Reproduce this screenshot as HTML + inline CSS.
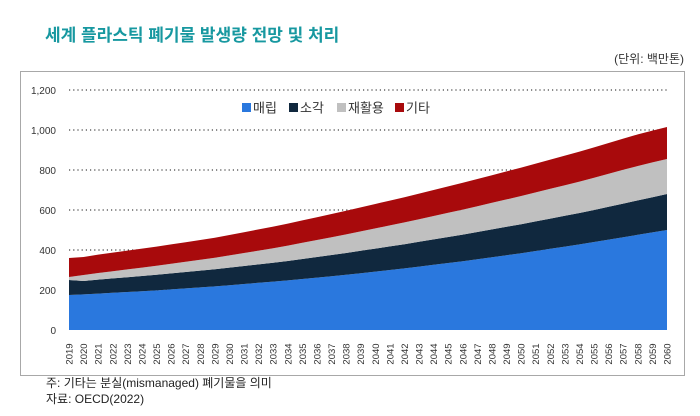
<!DOCTYPE html>
<html><head><meta charset="utf-8">
<style>
body{margin:0;background:#fff;width:700px;height:416px;overflow:hidden;font-family:"Liberation Sans","Noto Sans CJK KR",sans-serif}
svg{display:block}
</style></head>
<body>
<svg id="chart" width="700" height="416" xmlns="http://www.w3.org/2000/svg">
<text x="45" y="41" font-size="17" font-weight="bold" fill="#1798a0" font-family="'Liberation Sans','Noto Sans CJK KR',sans-serif">세계 플라스틱 폐기물 발생량 전망 및 처리</text>
<text x="684" y="63" font-size="12" fill="#333" text-anchor="end" font-family="'Liberation Sans','Noto Sans CJK KR',sans-serif">(단위: 백만톤)</text>
<rect x="20.5" y="71.5" width="664" height="304" fill="none" stroke="#a8a8a8"/>
<g id="grid"></g>
<g id="areas"></g>
<g id="yticks"></g>
<g id="xticks"></g>
<g id="legend" font-size="13" fill="#333" font-family="'Liberation Sans','Noto Sans CJK KR',sans-serif"></g>
<text x="46" y="387" font-size="12" fill="#222" font-family="'Liberation Sans','Noto Sans CJK KR',sans-serif">주: 기타는 분실(mismanaged) 폐기물을 의미</text>
<text x="46" y="403" font-size="12" fill="#222" font-family="'Liberation Sans','Noto Sans CJK KR',sans-serif">자료: OECD(2022)</text>
</svg>
<script>
const years = [];
for (let y = 2019; y <= 2060; y++) years.push(y);
const seriesNames = ["매립","소각","재활용","기타"];
const seriesColors = ["#2a78de","#10283e","#c0c0c0","#a80a0c"];
const landfill = [175,178,182,186,190,194,198,203,208,213,218,224,230,236,242,248,255,262,269,276,284,292,300,308,317,326,335,344,354,364,374,384,395,406,417,428,440,452,464,476,488,500];
const incineration = [75,67,70,72,74,76,78,80,82,84,86,88,90,92,94,97,100,103,106,109,112,115,118,121,124,127,130,133,136,139,142,145,148,151,154,157,160,164,168,172,176,180];
const recycling = [15,30,33,36,39,42,45,48,51,54,57,61,65,69,73,77,81,85,89,93,97,101,105,109,113,117,121,125,129,133,137,141,145,149,153,157,161,165,169,172,174,175];
const other = [95,90,92,93,94,95,96,97,98,99,100,102,104,106,108,110,112,114,116,118,120,122,124,126,128,130,132,134,136,138,140,142,144,146,148,150,152,154,156,158,159,160];
const yTicks = [0,200,400,600,800,1000,1200];
const yTickLabels = ["0","200","400","600","800","1,000","1,200"];

const NS = "http://www.w3.org/2000/svg";
const x0 = 69, x1 = 667, yBase = 330, yTop = 90, yMax = 1200;
const xScale = i => x0 + (x1 - x0) * i / (years.length - 1);
const yScale = v => yBase - (yBase - yTop) * v / yMax;

const grid = document.getElementById('grid');
const yt = document.getElementById('yticks');
yTicks.forEach((v, i) => {
  if (v > 0) {
    const l = document.createElementNS(NS, 'line');
    l.setAttribute('x1', x0); l.setAttribute('x2', x1);
    l.setAttribute('y1', yScale(v)); l.setAttribute('y2', yScale(v));
    l.setAttribute('stroke', '#444'); l.setAttribute('stroke-width', '1.2');
    l.setAttribute('stroke-dasharray', '1.2 3');
    
    
    grid.appendChild(l);
  }
  const t = document.createElementNS(NS, 'text');
  t.setAttribute('x', 56); t.setAttribute('y', yScale(v) + 4);
  t.setAttribute('text-anchor', 'end'); t.setAttribute('font-size', '10');
  t.setAttribute('fill', '#333');
  t.textContent = yTickLabels[i];
  
  
  yt.appendChild(t);
});

const series = [landfill, incineration, recycling, other];
const areas = document.getElementById('areas');
const cum = years.map(() => 0);
series.forEach((s, k) => {
  const lower = cum.slice();
  s.forEach((v, i) => cum[i] += v);
  let d = '';
  cum.forEach((v, i) => d += (i ? 'L' : 'M') + xScale(i).toFixed(2) + ',' + yScale(v).toFixed(2));
  for (let i = years.length - 1; i >= 0; i--) d += 'L' + xScale(i).toFixed(2) + ',' + yScale(lower[i]).toFixed(2);
  d += 'Z';
  const p = document.createElementNS(NS, 'path');
  p.setAttribute('d', d); p.setAttribute('fill', seriesColors[k]);
  
  
  areas.appendChild(p);
});

const xt = document.getElementById('xticks');
years.forEach((y, i) => {
  const t = document.createElementNS(NS, 'text');
  const cx = xScale(i) + 3.5, cy = 354;
  t.setAttribute('x', cx); t.setAttribute('y', cy);
  t.setAttribute('text-anchor', 'middle'); t.setAttribute('font-size', '9.5');
  t.setAttribute('fill', '#333');
  t.setAttribute('transform', 'rotate(-90 ' + cx + ' ' + cy + ')');
  t.textContent = y;
  
  
  xt.appendChild(t);
});

const lg = document.getElementById('legend');
const lx = [242, 289, 337, 395];
seriesNames.forEach((n, k) => {
  const r = document.createElementNS(NS, 'rect');
  r.setAttribute('x', lx[k]); r.setAttribute('y', 103);
  r.setAttribute('width', 9); r.setAttribute('height', 9);
  r.setAttribute('fill', seriesColors[k]);
  
  
  lg.appendChild(r);
  const t = document.createElementNS(NS, 'text');
  t.setAttribute('x', lx[k] + 11); t.setAttribute('y', 112.5);
  t.textContent = n;
  
  
  lg.appendChild(t);
});
</script>
</body></html>
